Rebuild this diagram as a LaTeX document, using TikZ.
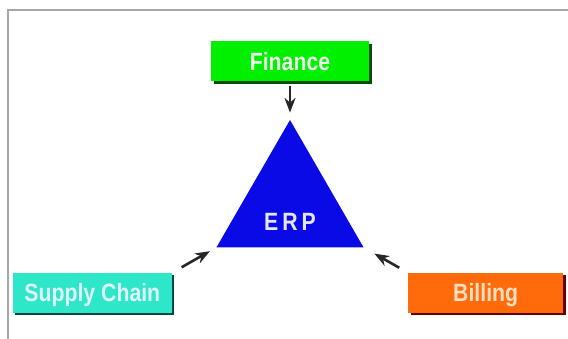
\documentclass[tikz,border=0pt]{standalone}
\usepackage{fontspec}
\setmainfont{Liberation Sans}
\newfontfamily\boxfont[FakeStretch=0.85]{Liberation Sans}
\usepackage{xcolor}
\usetikzlibrary{shapes.geometric, arrows.meta, positioning, shadows}

\definecolor{fingreen}{HTML}{00F000}
\definecolor{supplycyan}{HTML}{2EE6C8}
\definecolor{billorange}{HTML}{FF6A0A}
\definecolor{erpblue}{HTML}{0A0AE6}

\begin{document}
\begin{tikzpicture}[x=1pt, y=-1pt, >=Stealth]
    \tikzstyle{module} = [rectangle, minimum height=40pt, font=\boxfont\bfseries\fontsize{25}{25}\selectfont, text depth=0pt]
    \tikzstyle{arrow} = [->, line width=2.6pt, black!85, shorten <=4pt, shorten >=7pt]

    \useasboundingbox (0,0) rectangle (568,339);
    % outer frame
    \draw[gray!70, line width=1.6pt] (8,345) |- (575,10);

    \node (erp) [regular polygon, regular polygon sides=3, minimum size=170pt, fill=erpblue, inner sep=0pt,
        label={[yshift=-17pt, text=white!90!blue, font=\boxfont\bfseries\fontsize{25}{25}\selectfont]center:E\hspace{4pt}R\hspace{4pt}P}] at (290,205) {};

    \node (fin) [module, minimum width=158pt, fill=fingreen, text=white!92!green,
        drop shadow={shadow xshift=2.5pt, shadow yshift=-2.5pt, fill=green!30!black, opacity=1},
        above=38pt of erp.north] {Finance};
    \node (supply) [module, minimum width=159pt, fill=supplycyan, text=white!88!cyan,
        drop shadow={shadow xshift=2.5pt, shadow yshift=-2.5pt, fill=teal!55!black, opacity=1},
        below left=25pt and 44pt of erp.corner 2] {Supply Chain};
    \node (bill) [module, minimum width=155pt, fill=billorange, text=orange!25!white,
        drop shadow={shadow xshift=2.5pt, shadow yshift=-2.5pt, fill=red!40!black, opacity=1},
        below right=25pt and 44pt of erp.corner 3] {Billing};

    % arrows into the triangle
    \draw[arrow] (fin.south) -- (erp.corner 1);
    \draw[arrow, shorten <=11pt] (supply.north east) -- (erp.corner 2);
    \draw[arrow, shorten <=10pt, shorten >=12pt] (bill.north west) -- (erp.corner 3);
\end{tikzpicture}
\end{document}
